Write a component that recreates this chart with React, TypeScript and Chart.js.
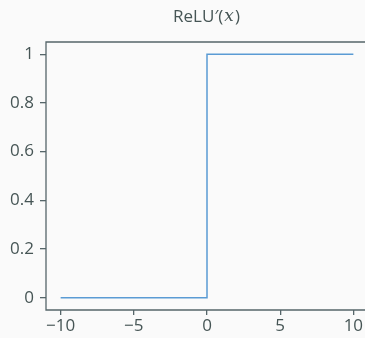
import React, { useEffect, useRef } from "react";
import { Chart, registerables } from "chart.js";

Chart.register(...registerables);

const xValues = [-10, 0, 0, 10];
const yValues = [0, 0, 1, 1];
const xTicks = [-10, -5, 0, 5, 10];
const yTicks = [0, 0.2, 0.4, 0.6, 0.8, 1];
const xRange = [-11, 11];
const yRange = [-0.05, 1.05];

const FONT = "'Open Sans', 'Noto Sans', sans-serif";
const TEXT = "#465555";
const SPINE = "#56666a";
const LINE = "#5a9bd4";

const fmt = (v: number) => (v < 0 ? "\u2212" + String(Math.abs(v)) : String(v));

export default function App() {
  const ref = useRef<HTMLCanvasElement | null>(null);
  useEffect(() => {
    document.body.style.margin = "0";
    document.body.style.background = "#fafafa";
    const boxPlugin = {
      id: "box",
      afterDraw(chart: any) {
        const { ctx, chartArea: a } = chart;
        ctx.save();
        ctx.strokeStyle = SPINE;
        ctx.lineWidth = 1.3;
        ctx.beginPath();
        ctx.moveTo(a.right + 5, a.top);
        ctx.lineTo(a.left, a.top);
        ctx.lineTo(a.left, a.bottom);
        ctx.lineTo(a.right + 5, a.bottom);
        ctx.stroke();
        ctx.fillStyle = TEXT;
        ctx.textBaseline = "middle";
        const p1 = "ReLU\u2032(";
        const p2 = "x";
        const p3 = ")";
        ctx.font = `17px ${FONT}`;
        const w1 = ctx.measureText(p1).width;
        const w3 = ctx.measureText(p3).width;
        ctx.font = `italic 17px 'DejaVu Serif', serif`;
        const w2 = ctx.measureText(p2).width;
        const total = w1 + w2 + w3 + 2;
        let x = 206.5 - total / 2;
        const y = 17;
        ctx.textAlign = "left";
        ctx.font = `17px ${FONT}`;
        ctx.fillText(p1, x, y);
        x += w1 + 1;
        ctx.font = `italic 17px 'DejaVu Serif', serif`;
        ctx.fillText(p2, x, y);
        x += w2 + 1;
        ctx.font = `17px ${FONT}`;
        ctx.fillText(p3, x, y);
        ctx.restore();
      },
    };
    const chart = new Chart(ref.current as HTMLCanvasElement, {
      type: "line",
      data: {
        datasets: [
          {
            data: xValues.map((x, i) => ({ x, y: yValues[i] })),
            borderColor: LINE,
            borderWidth: 1.5,
            pointRadius: 0,
            fill: false,
            tension: 0,
          },
        ],
      },
      plugins: [boxPlugin],
      options: {
        animation: false,
        responsive: false,
        events: [],
        layout: { padding: { top: 42, left: 0, right: 12, bottom: 0 } },
        plugins: { legend: { display: false }, tooltip: { enabled: false }, title: { display: false } },
        scales: {
          x: {
            type: "linear",
            min: xRange[0],
            max: xRange[1],
            afterBuildTicks: (s: any) => {
              s.ticks = xTicks.map((v) => ({ value: v }));
            },
            afterFit: (s: any) => {
              s.height = 28;
              s.paddingLeft = 0;
              s.paddingRight = 0;
            },
            border: { display: false },
            grid: { drawOnChartArea: false, drawTicks: true, tickLength: 5, color: SPINE, lineWidth: 1.3 },
            ticks: {
              callback: (v: any) => fmt(Number(v)),
              color: TEXT,
              font: { family: FONT, size: 17 },
              padding: 1,
              maxRotation: 0,
              autoSkip: false,
            },
          },
          y: {
            type: "linear",
            min: yRange[0],
            max: yRange[1],
            afterBuildTicks: (s: any) => {
              s.ticks = yTicks.map((v) => ({ value: v }));
            },
            afterFit: (s: any) => {
              s.width = 46;
              s.paddingTop = 0;
              s.paddingBottom = 0;
            },
            border: { display: false },
            grid: { drawOnChartArea: false, drawTicks: true, tickLength: 6, color: SPINE, lineWidth: 1.3 },
            ticks: {
              callback: (v: any) => fmt(Number(v)),
              color: TEXT,
              font: { family: FONT, size: 17 },
              padding: 6,
              autoSkip: false,
            },
          },
        },
      },
    } as any);
    return () => chart.destroy();
  }, []);
  return (
    <div style={{ width: 365, height: 338, overflow: "hidden", background: "#fafafa" }}>
      <canvas ref={ref} width={380} height={338} style={{ display: "block", width: 380, height: 338 }} />
    </div>
  );
}
